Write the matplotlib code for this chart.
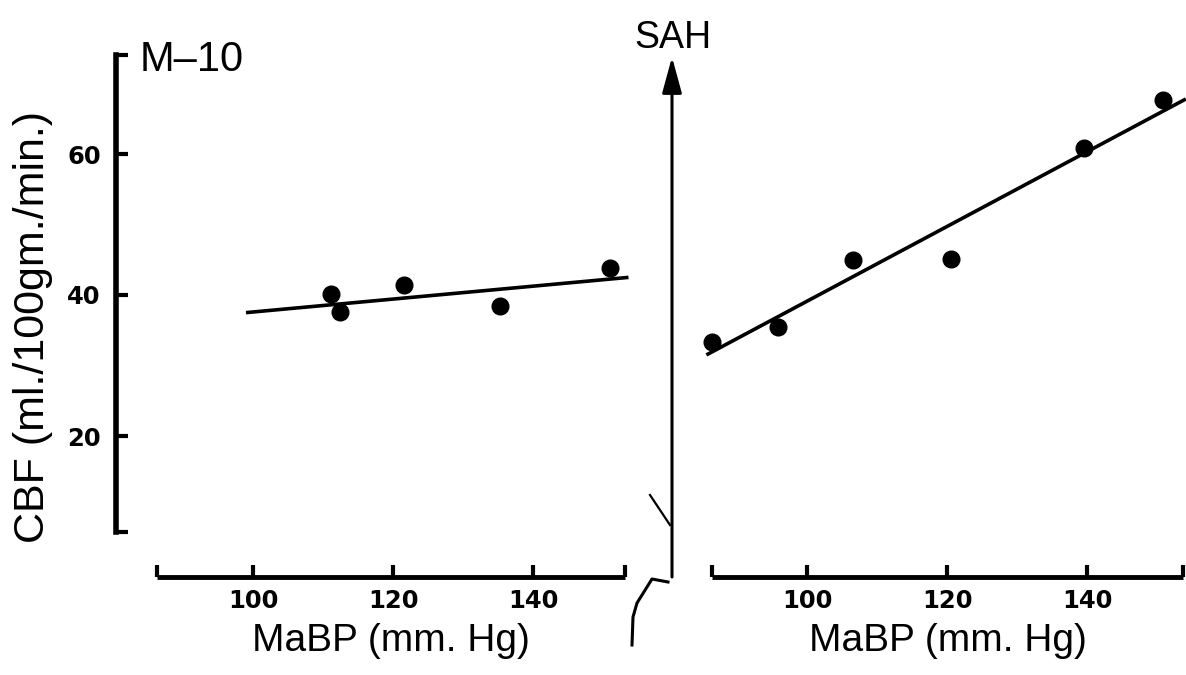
import numpy as np
import matplotlib
matplotlib.use("Agg")
import matplotlib.pyplot as plt
from matplotlib.patches import FancyArrowPatch
from matplotlib.lines import Line2D

# control period (left) and after SAH (right)
ctrl_bp = [111.1, 112.4, 121.5, 135.2, 151.0]
ctrl_cbf = [40.1, 37.6, 41.4, 38.5, 43.8]
ctrl_fit_bp = [99.0, 153.6]
ctrl_fit_cbf = [37.5, 42.5]

sah_bp = [86.4, 95.9, 106.5, 120.6, 139.5, 150.8]
sah_cbf = [33.4, 35.5, 45.0, 45.1, 60.9, 67.7]
sah_fit_bp = [85.6, 154.1]
sah_fit_cbf = [31.5, 67.8]

xticks = [100, 120, 140]
yticks = [20, 40, 60]

W, H = 1186, 675
plain = ['Liberation Sans', 'DejaVu Sans']

fig = plt.figure(figsize=(W / 100, H / 100), dpi=100)
fig.patch.set_facecolor('white')

def fx(px):
    return px / W

def fy(py):
    return 1 - py / H

bottom = fy(577)
height = 74 * 7.05 / H
ax1 = fig.add_axes([fx(157), bottom, fx(625 - 157), height])
ax2 = fig.add_axes([fx(712), bottom, fx(1183 - 712), height])

panels = [(ax1, (86.3, 153.1), ctrl_bp, ctrl_cbf, ctrl_fit_bp, ctrl_fit_cbf),
          (ax2, (86.4, 153.7), sah_bp, sah_cbf, sah_fit_bp, sah_fit_cbf)]

for ax, xl, bx, by, fx_, fy_ in panels:
    ax.set_xlim(*xl)
    ax.set_ylim(0, 74)
    ax.set_facecolor('none')
    ax.plot(fx_, fy_, color='black', lw=2.6, clip_on=False, solid_capstyle='butt')
    ax.plot(bx, by, 'o', ms=12, color='black', clip_on=False)
    for s in ['top', 'right']:
        ax.spines[s].set_visible(False)
    ax.spines['bottom'].set_linewidth(3.5)
    ax.spines['bottom'].set_capstyle('butt')
    ax.set_xticks([xl[0]] + xticks + [xl[1]])
    ax.set_xticklabels([''] + [str(t) for t in xticks] + [''])
    ax.tick_params(axis='x', direction='in', length=9, width=3, pad=9,
                   labelsize=17.5)
    for lab in ax.get_xticklabels():
        lab.set_fontweight('bold')
    ax.set_xlabel('MaBP (mm. Hg)', fontsize=28, family=plain, labelpad=7)

# left panel: detached y axis
ax1.spines['left'].set_position(('outward', 29.5))
ax1.spines['left'].set_bounds(6.4, 74)
ax1.spines['left'].set_linewidth(4)
ax1.set_yticks([6.4] + yticks + [74])
ax1.set_yticklabels([''] + [str(t) for t in yticks] + [''])
ax1.tick_params(axis='y', direction='in', length=8.5, width=3, pad=11,
                labelsize=17.5)
for lab in ax1.get_yticklabels():
    lab.set_fontweight('bold')

ax2.spines['left'].set_visible(False)
ax2.set_yticks([])

fig.text(fx(33), fy(327), 'CBF (ml./100gm./min.)', rotation=90,
         ha='center', va='center', fontsize=31, family=plain)
fig.text(fx(140), fy(71), 'M\u201310', ha='left', va='baseline',
         fontsize=30, family=plain)
fig.text(fx(673), fy(48), 'SAH', ha='center', va='baseline',
         fontsize=27, family=plain)

# SAH arrow between the two panels
arr = FancyArrowPatch((fx(672), fy(577)), (fx(672), fy(57)),
                      transform=fig.transFigure,
                      arrowstyle='-|>,head_length=2.2,head_width=0.6',
                      mutation_scale=10, lw=2.2, color='black',
                      shrinkA=0, shrinkB=0)
fig.add_artist(arr)

# break marks at the foot of the arrow
fig.add_artist(Line2D([fx(650), fx(670)], [fy(495), fy(525)],
                      transform=fig.transFigure, color='black', lw=1.6))
curve_x = [668, 652, 637, 633, 632]
curve_y = [582, 579, 603, 617, 645]
fig.add_artist(Line2D([fx(v) for v in curve_x], [fy(v) for v in curve_y],
                      transform=fig.transFigure, color='black', lw=2.2))

fig.savefig('out.png', dpi=100)
